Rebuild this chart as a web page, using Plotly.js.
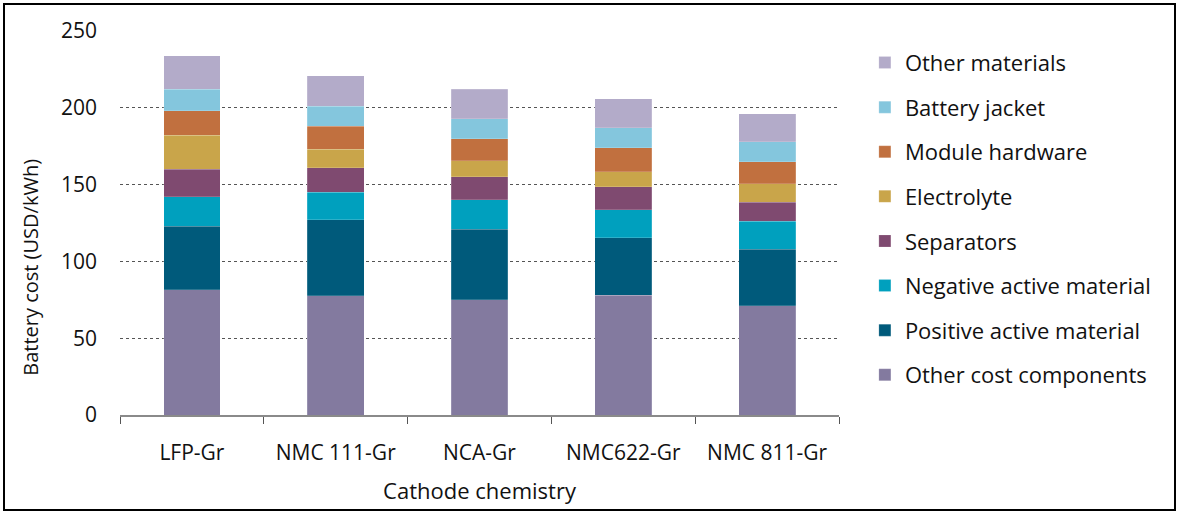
<!DOCTYPE html>
<html>
<head>
<meta charset="utf-8">
<script src="https://cdn.plot.ly/plotly-3.0.1.min.js"></script>
<style>
  html, body { margin: 0; padding: 0; background: #fff; }
  #wrap { position: relative; width: 1177px; height: 512px; }
  #chart { width: 1177px; height: 512px; }
  #frame { position: absolute; left: 3px; top: 3px; width: 1169px; height: 504px;
           border: 2px solid #000; pointer-events: none; }
</style>
</head>
<body>
<div id="wrap"><div id="chart"></div><div id="frame"></div></div>
<script>
const categories = ["LFP-Gr", "NMC 111-Gr", "NCA-Gr", "NMC622-Gr", "NMC 811-Gr"];

const otherCostComponents    = [81.5, 77.5, 75, 78, 71];
const positiveActiveMaterial = [41.5, 49.5, 46, 37.5, 37];
const negativeActiveMaterial = [19, 18, 19, 18, 18];
const separators             = [18, 16, 15, 15, 12.5];
const electrolyte            = [22, 12, 10.5, 10, 12];
const moduleHardware         = [16, 15, 14.5, 15.5, 14.5];
const batteryJacket          = [14, 13, 13, 13, 13];
const otherMaterials         = [22, 20, 19, 19, 18];

const seriesNames = ["Other cost components", "Positive active material", "Negative active material",
  "Separators", "Electrolyte", "Module hardware", "Battery jacket", "Other materials"];
const seriesValues = [otherCostComponents, positiveActiveMaterial, negativeActiveMaterial,
  separators, electrolyte, moduleHardware, batteryJacket, otherMaterials];
const seriesColors = ["#837A9F", "#005A7B", "#00A0BE", "#7F4A70", "#C9A54A", "#C1703F", "#84C6DD", "#B3ABC9"];

const FONT = "'Open Sans', sans-serif";

const traces = seriesNames.map((n, i) => ({
  type: "bar",
  name: n,
  x: categories,
  y: seriesValues[i],
  legendgroup: "g" + i,
  legendrank: 100 - i,
  marker: { color: seriesColors[i], line: { color: "rgba(255,255,255,0.35)", width: 0.5 } },
  hoverinfo: "x+y+name"
}));

const layout = {
  width: 1177,
  height: 512,
  barmode: "stack",
  bargap: 0.605,
  paper_bgcolor: "#fff",
  plot_bgcolor: "#fff",
  margin: { l: 120, r: 338, t: 31, b: 96.5 },
  font: { family: FONT, size: 20, color: "#111" },
  showlegend: true,
  legend: {
    x: 1.036, xanchor: "left",
    y: 0.972, yanchor: "top",
    traceorder: "grouped",
    tracegroupgap: 13,
    itemwidth: 30,
    font: { family: FONT, size: 22, color: "#111" },
    bgcolor: "rgba(0,0,0,0)"
  },
  xaxis: {
    type: "category",
    showline: true,
    linecolor: "#8a8a8a",
    linewidth: 1.5,
    ticks: "outside",
    tickson: "boundaries",
    ticklen: 7,
    tickcolor: "#555",
    tickwidth: 1,
    showgrid: false,
    ticklabelstandoff: 18,
    tickfont: { family: FONT, size: 21, color: "#111" },
    title: { text: "Cathode chemistry", font: { family: FONT, size: 22, color: "#111" }, standoff: 19 }
  },
  yaxis: {
    range: [0, 250],
    dtick: 50,
    showgrid: true,
    gridcolor: "#555",
    griddash: "dot",
    gridwidth: 1,
    zeroline: false,
    showline: false,
    ticks: "",
    ticklabelstandoff: 22,
    tickfont: { family: FONT, size: 21, color: "#111" }
  },
  annotations: [{
    text: "Battery cost (USD/kWh)",
    xref: "paper", yref: "paper",
    x: -0.1238, y: 0.386,
    xanchor: "center", yanchor: "middle",
    textangle: -90,
    showarrow: false,
    font: { family: FONT, size: 20, color: "#111" }
  }]
};

Plotly.newPlot("chart", traces, layout, { displayModeBar: false, staticPlot: true });
</script>
</body>
</html>
